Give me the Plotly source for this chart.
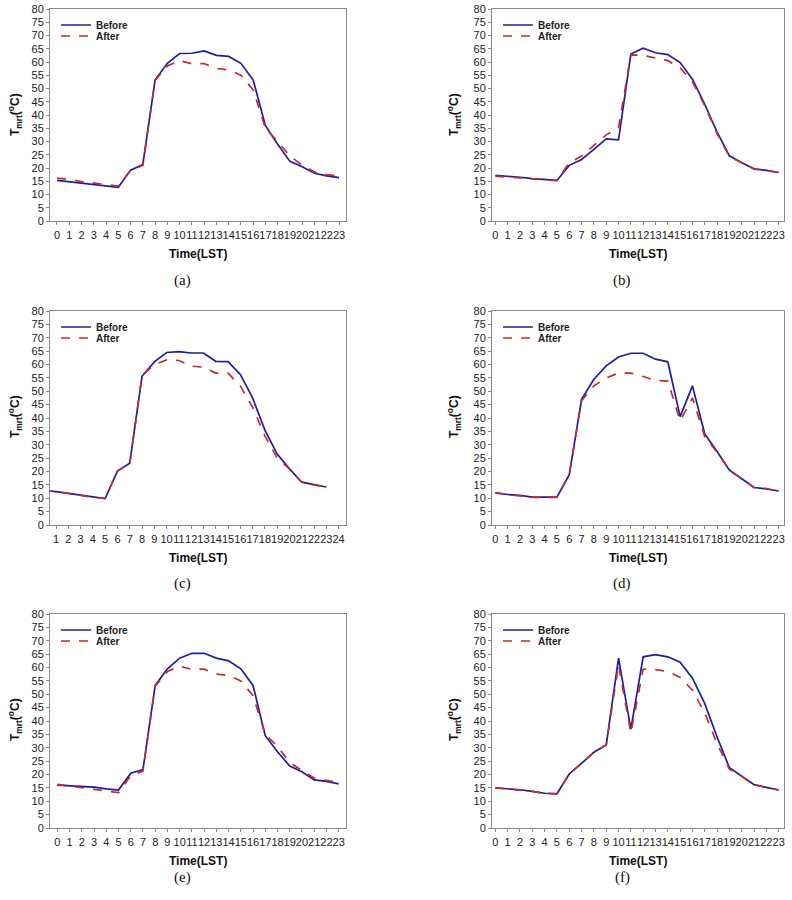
import plotly.graph_objects as go

hours = list(range(24))

a_before = [15.3, 14.8, 14.2, 13.6, 13.1, 12.7, 19.2, 21.3, 53.2, 59.5, 63.2, 63.3, 64.2, 62.5, 62.1, 59.5, 53.2, 36.0, 29.0, 22.5, 20.5, 18.0, 17.0, 16.4]
a_after = [16.2, 15.7, 14.9, 14.3, 13.7, 13.2, 19.0, 21.0, 53.0, 58.5, 60.5, 59.3, 59.4, 57.6, 57.0, 55.0, 49.5, 35.0, 30.0, 24.5, 21.0, 18.5, 17.5, 16.9]

b_before = [17.2, 16.9, 16.5, 16.0, 15.6, 15.3, 21.0, 23.2, 27.0, 31.0, 30.6, 63.0, 65.2, 63.5, 62.8, 59.8, 53.5, 44.0, 33.5, 24.6, 22.0, 19.7, 19.1, 18.3]
b_after = [16.9, 16.7, 16.3, 15.9, 15.5, 15.2, 22.0, 24.5, 28.5, 32.5, 35.2, 62.7, 62.5, 61.5, 60.5, 57.8, 52.5, 43.5, 33.0, 24.3, 22.0, 19.6, 19.1, 18.2]

c_before = [12.9, 12.5, 11.8, 11.1, 10.4, 9.9, 20.2, 23.1, 55.6, 61.0, 64.5, 64.8, 64.3, 64.3, 61.2, 61.1, 56.3, 47.5, 35.5, 26.5, 21.0, 16.0, 15.1, 14.2]
c_after = [12.9, 12.5, 11.8, 11.0, 10.3, 10.0, 20.2, 23.0, 55.8, 60.0, 61.7, 61.5, 59.4, 59.0, 56.8, 56.8, 52.0, 44.0, 33.3, 25.0, 21.0, 16.0, 15.0, 14.3]

d_before = [12.0, 11.4, 11.1, 10.4, 10.4, 10.4, 18.8, 47.0, 54.5, 59.5, 62.8, 64.2, 64.2, 62.0, 61.0, 40.5, 52.0, 34.0, 27.5, 20.5, 17.3, 14.0, 13.5, 12.7]
d_after = [12.0, 11.4, 11.0, 10.3, 10.3, 10.3, 18.8, 46.5, 52.0, 55.0, 56.8, 56.8, 55.5, 54.0, 53.8, 39.0, 47.5, 33.0, 27.2, 20.5, 17.3, 14.0, 13.6, 12.6]

e_before = [16.0, 15.8, 15.5, 15.3, 14.6, 14.2, 20.5, 21.8, 53.3, 59.5, 63.5, 65.3, 65.3, 63.5, 62.5, 59.5, 53.3, 34.5, 28.5, 23.2, 21.0, 18.0, 17.4, 16.5]
e_after = [16.3, 15.7, 14.9, 14.3, 13.7, 13.2, 19.5, 21.3, 53.0, 58.5, 60.5, 59.3, 59.4, 57.5, 57.0, 55.0, 49.5, 35.0, 30.5, 24.5, 21.5, 18.7, 17.8, 17.0]

f_before = [15.0, 14.7, 14.3, 13.7, 13.0, 12.8, 20.2, 24.2, 28.3, 31.0, 63.5, 37.0, 64.0, 64.8, 64.0, 62.0, 56.0, 46.5, 34.0, 22.5, 19.3, 16.2, 15.2, 14.2]
f_after = [15.0, 14.6, 14.3, 13.7, 13.0, 12.8, 20.2, 24.2, 28.3, 31.0, 61.0, 35.5, 59.4, 59.2, 58.5, 56.3, 51.5, 43.0, 31.5, 22.0, 19.3, 16.2, 15.2, 14.2]

y_ticks = list(range(0, 81, 5))
x_ticks_std = list(range(24))
x_ticks_c = list(range(1, 25))

series_names = ["Before", "After"]
captions = ["(a)", "(b)", "(c)", "(d)", "(e)", "(f)"]

panels = [
    (a_before, a_after, x_ticks_std, [-0.57, 23.57]),
    (b_before, b_after, x_ticks_std, [-0.27, 23.43]),
    (c_before, c_after, x_ticks_c, [0.51, 24.6]),
    (d_before, d_after, x_ticks_std, [-0.27, 23.43]),
    (e_before, e_after, x_ticks_std, [-0.6, 23.6]),
    (f_before, f_after, x_ticks_std, [-0.27, 23.43]),
]

W, H = 792, 900
col_px = [(50, 346), (492, 784)]
row_px = [(9, 221), (311, 525), (614, 828)]
caption_off = [59, 58, 49]
ytitle_dx = [35, 38]

BLUE = "#1c1ca6"
RED = "#c62a2a"
FONT = "Liberation Sans, Arial, sans-serif"
AXCOL = "#8a8a8a"

fig = go.Figure()
layout = dict(
    width=W, height=H, margin=dict(l=0, r=0, t=0, b=0, autoexpand=False),
    paper_bgcolor="white", plot_bgcolor="white", showlegend=True,
)
annotations = []
leg_n = 0

for i, (before, after, xt, xr) in enumerate(panels):
    r, c = divmod(i, 2)
    x0, x1 = col_px[c]
    y0, y1 = row_px[r]
    sfx = "" if i == 0 else str(i + 1)
    xa, ya = "x" + sfx, "y" + sfx
    for k, (vals, name, col, dash) in enumerate([(before, series_names[0], BLUE, "solid"),
                                                 (after, series_names[1], RED, "dash")]):
        leg_n += 1
        leg = "legend" if leg_n == 1 else "legend" + str(leg_n)
        fig.add_trace(go.Scatter(
            x=hours, y=vals, mode="lines", name=name,
            line=dict(color=col, width=1.7, dash=dash),
            xaxis=xa, yaxis=ya, legend=leg,
        ))
        ly = y0 + (16 if k == 0 else 27)
        layout[leg] = dict(
            x=(x0 + 6) / W, y=1 - ly / H, xanchor="left", yanchor="middle",
            bgcolor="rgba(0,0,0,0)", borderwidth=0,
            font=dict(family=FONT, size=10, color="#222222", weight="bold"),
            itemwidth=30,
        )
    common = dict(showline=True, linecolor=AXCOL, linewidth=1, mirror=True,
                  showgrid=False, zeroline=False, ticks="outside", ticklen=3,
                  tickcolor=AXCOL, tickwidth=1, tickangle=0, automargin=False,
                  tickfont=dict(family=FONT, size=11, color="#222222"))
    layout["xaxis" + sfx] = dict(
        domain=[x0 / W, x1 / W], anchor=ya, range=xr,
        tickmode="array", tickvals=xt, ticktext=[str(t) for t in xt],
        ticklabelstandoff=1, **common)
    layout["yaxis" + sfx] = dict(
        domain=[1 - y1 / H, 1 - y0 / H], anchor=xa, range=[0, 80],
        tickmode="array", tickvals=y_ticks, ticktext=[str(t) for t in y_ticks],
        **common)
    xc = (x0 + x1) / 2
    annotations.append(dict(
        text="<b>Time(LST)</b>", x=xc / W, y=1 - (y1 + 33) / H,
        xref="paper", yref="paper", showarrow=False, xanchor="center", yanchor="middle",
        font=dict(family=FONT, size=12, color="#111111")))
    annotations.append(dict(
        text="<b>T<sub>mrt</sub>(<sup>o</sup>C)</b>", x=(x0 - ytitle_dx[c]) / W, y=1 - (y0 + 106) / H,
        xref="paper", yref="paper", showarrow=False, xanchor="center", yanchor="middle",
        textangle=-90, font=dict(family=FONT, size=12, color="#111111")))
    annotations.append(dict(
        text=captions[i], x=(xc - 16) / W, y=1 - (y1 + caption_off[r]) / H,
        xref="paper", yref="paper", showarrow=False, xanchor="center", yanchor="middle",
        font=dict(family="Liberation Serif, Times New Roman, serif", size=15, color="#111111")))

layout["annotations"] = annotations
fig.update_layout(**layout)
fig.write_html("out.html", config={"displayModeBar": False},
               post_script="document.body.style.margin='0';document.body.style.padding='0';")
